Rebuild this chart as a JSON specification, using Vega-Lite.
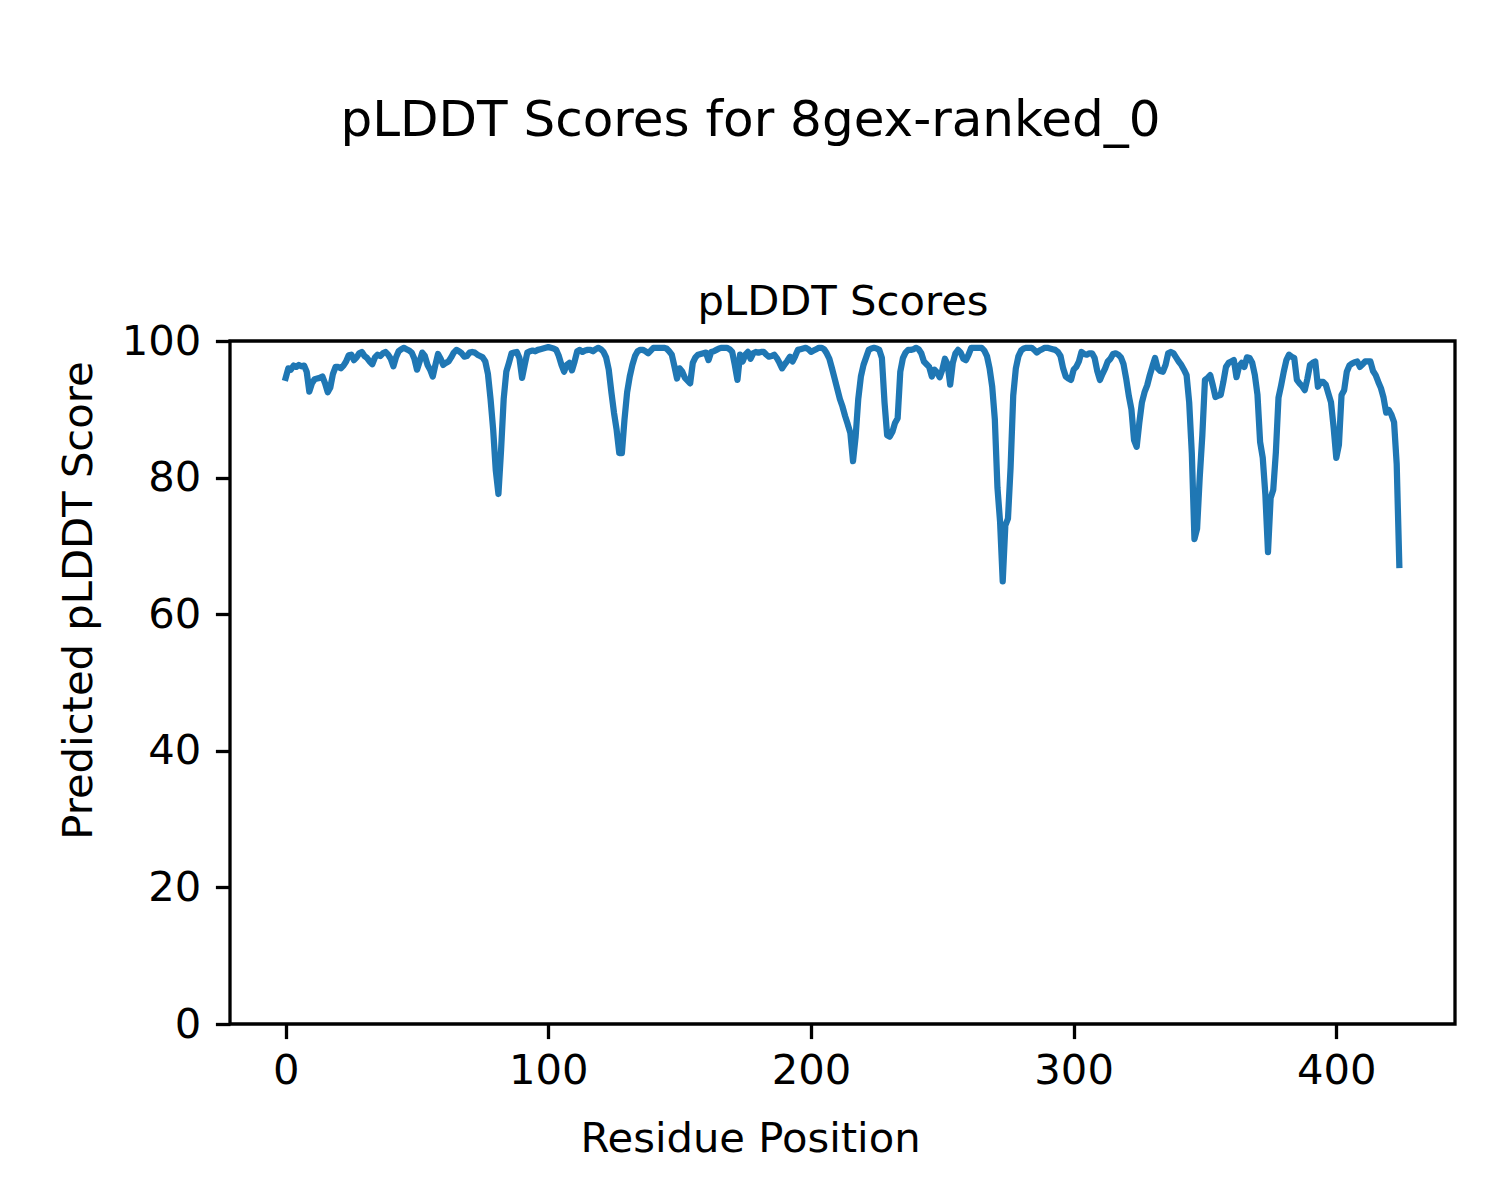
{
 "$schema": "https://vega.github.io/schema/vega-lite/v6.json",
 "width": 1225, "height": 683,
 "autosize": {"type": "none"},
 "padding": {"left": 230, "top": 341, "right": 45, "bottom": 176},
 "background": "white",
 "config": {"view": {"stroke": "black", "strokeWidth": 3.3}, "font": "DejaVu Sans"},
 "title": {"text": "pLDDT Scores for 8gex-ranked_0", "fontSize": 50, "fontWeight": "normal", "font": "DejaVu Sans", "color": "black", "anchor": "middle", "frame": "group", "dx": -92, "offset": 135},
 "data": {"values": [
{"r":0,"s":94.6},{"r":1,"s":96.0},{"r":2,"s":95.8},{"r":3,"s":96.4},{"r":4,"s":96.2},{"r":5,"s":96.5},{"r":6,"s":96.3},{"r":7,"s":96.4},{"r":8,"s":95.5},{"r":9,"s":92.6},
{"r":10,"s":93.8},{"r":11,"s":94.4},{"r":12,"s":94.5},{"r":13,"s":94.6},{"r":14,"s":94.8},{"r":15,"s":93.8},{"r":16,"s":92.5},{"r":17,"s":93.2},{"r":18,"s":95.2},{"r":19,"s":96.2},
{"r":20,"s":96.2},{"r":21,"s":96.0},{"r":22,"s":96.4},{"r":23,"s":97.0},{"r":24,"s":97.9},{"r":25,"s":98.0},{"r":26,"s":97.2},{"r":27,"s":97.6},{"r":28,"s":98.2},{"r":29,"s":98.4},
{"r":30,"s":97.8},{"r":31,"s":97.5},{"r":32,"s":97.0},{"r":33,"s":96.6},{"r":34,"s":97.6},{"r":35,"s":98.0},{"r":36,"s":97.8},{"r":37,"s":98.2},{"r":38,"s":98.4},{"r":39,"s":98.0},
{"r":40,"s":97.4},{"r":41,"s":96.3},{"r":42,"s":97.6},{"r":43,"s":98.5},{"r":44,"s":98.8},{"r":45,"s":99.0},{"r":46,"s":98.8},{"r":47,"s":98.6},{"r":48,"s":98.3},{"r":49,"s":97.4},
{"r":50,"s":95.8},{"r":51,"s":97.0},{"r":52,"s":98.3},{"r":53,"s":97.8},{"r":54,"s":96.5},{"r":55,"s":95.8},{"r":56,"s":94.8},{"r":57,"s":96.5},{"r":58,"s":98.1},{"r":59,"s":97.4},
{"r":60,"s":96.5},{"r":61,"s":96.8},{"r":62,"s":97.0},{"r":63,"s":97.6},{"r":64,"s":98.3},{"r":65,"s":98.7},{"r":66,"s":98.5},{"r":67,"s":98.2},{"r":68,"s":97.7},{"r":69,"s":97.8},
{"r":70,"s":98.3},{"r":71,"s":98.4},{"r":72,"s":98.3},{"r":73,"s":98.0},{"r":74,"s":97.8},{"r":75,"s":97.6},{"r":76,"s":97.0},{"r":77,"s":95.2},{"r":78,"s":91.5},{"r":79,"s":87.0},
{"r":80,"s":81.0},{"r":81,"s":77.6},{"r":82,"s":84.0},{"r":83,"s":91.5},{"r":84,"s":95.5},{"r":85,"s":96.8},{"r":86,"s":98.2},{"r":87,"s":98.3},{"r":88,"s":98.4},{"r":89,"s":97.5},
{"r":90,"s":94.6},{"r":91,"s":96.5},{"r":92,"s":98.3},{"r":93,"s":98.5},{"r":94,"s":98.6},{"r":95,"s":98.5},{"r":96,"s":98.7},{"r":97,"s":98.8},{"r":98,"s":98.9},{"r":99,"s":99.0},
{"r":100,"s":99.1},{"r":101,"s":99.0},{"r":102,"s":98.9},{"r":103,"s":98.7},{"r":104,"s":97.8},{"r":105,"s":96.5},{"r":106,"s":95.5},{"r":107,"s":96.5},{"r":108,"s":96.8},{"r":109,"s":95.7},
{"r":110,"s":97.0},{"r":111,"s":98.5},{"r":112,"s":98.7},{"r":113,"s":98.4},{"r":114,"s":98.6},{"r":115,"s":98.7},{"r":116,"s":98.7},{"r":117,"s":98.5},{"r":118,"s":98.8},{"r":119,"s":99.0},
{"r":120,"s":98.8},{"r":121,"s":98.4},{"r":122,"s":97.6},{"r":123,"s":95.8},{"r":124,"s":92.5},{"r":125,"s":89.5},{"r":126,"s":87.0},{"r":127,"s":83.6},{"r":128,"s":83.6},{"r":129,"s":88.5},
{"r":130,"s":92.5},{"r":131,"s":94.8},{"r":132,"s":96.5},{"r":133,"s":97.8},{"r":134,"s":98.5},{"r":135,"s":98.7},{"r":136,"s":98.7},{"r":137,"s":98.5},{"r":138,"s":98.2},{"r":139,"s":98.6},
{"r":140,"s":99.0},{"r":141,"s":99.0},{"r":142,"s":99.0},{"r":143,"s":99.0},{"r":144,"s":99.0},{"r":145,"s":98.9},{"r":146,"s":98.5},{"r":147,"s":98.0},{"r":148,"s":96.3},{"r":149,"s":94.5},
{"r":150,"s":96.0},{"r":151,"s":95.5},{"r":152,"s":94.6},{"r":153,"s":94.2},{"r":154,"s":93.8},{"r":155,"s":96.8},{"r":156,"s":97.6},{"r":157,"s":98.0},{"r":158,"s":98.1},{"r":159,"s":98.2},
{"r":160,"s":98.3},{"r":161,"s":97.2},{"r":162,"s":98.4},{"r":163,"s":98.5},{"r":164,"s":98.7},{"r":165,"s":98.9},{"r":166,"s":99.0},{"r":167,"s":99.0},{"r":168,"s":99.0},{"r":169,"s":98.8},
{"r":170,"s":98.4},{"r":171,"s":96.5},{"r":172,"s":94.3},{"r":173,"s":98.0},{"r":174,"s":97.0},{"r":175,"s":98.0},{"r":176,"s":98.4},{"r":177,"s":97.4},{"r":178,"s":98.2},{"r":179,"s":98.4},
{"r":180,"s":98.3},{"r":181,"s":98.4},{"r":182,"s":98.4},{"r":183,"s":98.0},{"r":184,"s":97.7},{"r":185,"s":97.8},{"r":186,"s":98.0},{"r":187,"s":97.5},{"r":188,"s":96.8},{"r":189,"s":96.0},
{"r":190,"s":96.6},{"r":191,"s":97.1},{"r":192,"s":97.7},{"r":193,"s":97.0},{"r":194,"s":97.8},{"r":195,"s":98.7},{"r":196,"s":98.8},{"r":197,"s":98.9},{"r":198,"s":99.0},{"r":199,"s":98.8},
{"r":200,"s":98.4},{"r":201,"s":98.6},{"r":202,"s":98.8},{"r":203,"s":99.0},{"r":204,"s":99.0},{"r":205,"s":98.8},{"r":206,"s":98.2},{"r":207,"s":97.4},{"r":208,"s":96.0},{"r":209,"s":94.5},
{"r":210,"s":93.0},{"r":211,"s":91.5},{"r":212,"s":90.4},{"r":213,"s":89.0},{"r":214,"s":87.8},{"r":215,"s":86.5},{"r":216,"s":82.4},{"r":217,"s":86.0},{"r":218,"s":91.5},{"r":219,"s":94.8},
{"r":220,"s":96.5},{"r":221,"s":97.6},{"r":222,"s":98.7},{"r":223,"s":98.9},{"r":224,"s":99.0},{"r":225,"s":98.9},{"r":226,"s":98.7},{"r":227,"s":97.5},{"r":228,"s":91.0},{"r":229,"s":86.2},
{"r":230,"s":86.0},{"r":231,"s":86.7},{"r":232,"s":88.0},{"r":233,"s":88.7},{"r":234,"s":95.5},{"r":235,"s":97.5},{"r":236,"s":98.3},{"r":237,"s":98.7},{"r":238,"s":98.7},{"r":239,"s":98.8},
{"r":240,"s":99.0},{"r":241,"s":98.8},{"r":242,"s":98.2},{"r":243,"s":97.0},{"r":244,"s":96.6},{"r":245,"s":96.2},{"r":246,"s":94.8},{"r":247,"s":95.8},{"r":248,"s":95.4},{"r":249,"s":94.7},
{"r":250,"s":95.8},{"r":251,"s":97.4},{"r":252,"s":96.6},{"r":253,"s":93.6},{"r":254,"s":96.8},{"r":255,"s":98.2},{"r":256,"s":98.7},{"r":257,"s":98.3},{"r":258,"s":97.4},{"r":259,"s":97.2},
{"r":260,"s":98.0},{"r":261,"s":99.0},{"r":262,"s":99.0},{"r":263,"s":99.0},{"r":264,"s":99.0},{"r":265,"s":99.0},{"r":266,"s":98.6},{"r":267,"s":97.8},{"r":268,"s":96.0},{"r":269,"s":93.3},
{"r":270,"s":88.5},{"r":271,"s":78.5},{"r":272,"s":73.5},{"r":273,"s":64.8},{"r":274,"s":73.0},{"r":275,"s":74.0},{"r":276,"s":81.5},{"r":277,"s":92.0},{"r":278,"s":96.0},{"r":279,"s":97.8},
{"r":280,"s":98.6},{"r":281,"s":98.9},{"r":282,"s":99.0},{"r":283,"s":99.0},{"r":284,"s":99.0},{"r":285,"s":98.7},{"r":286,"s":98.3},{"r":287,"s":98.6},{"r":288,"s":98.8},{"r":289,"s":99.0},
{"r":290,"s":99.0},{"r":291,"s":98.9},{"r":292,"s":98.8},{"r":293,"s":98.7},{"r":294,"s":98.4},{"r":295,"s":97.8},{"r":296,"s":96.0},{"r":297,"s":94.8},{"r":298,"s":94.5},{"r":299,"s":94.3},
{"r":300,"s":95.8},{"r":301,"s":96.2},{"r":302,"s":97.0},{"r":303,"s":98.4},{"r":304,"s":98.1},{"r":305,"s":98.0},{"r":306,"s":98.2},{"r":307,"s":98.2},{"r":308,"s":97.5},{"r":309,"s":95.6},
{"r":310,"s":94.3},{"r":311,"s":95.2},{"r":312,"s":96.0},{"r":313,"s":97.0},{"r":314,"s":97.4},{"r":315,"s":98.1},{"r":316,"s":98.2},{"r":317,"s":98.0},{"r":318,"s":97.6},{"r":319,"s":96.6},
{"r":320,"s":94.5},{"r":321,"s":92.0},{"r":322,"s":90.0},{"r":323,"s":85.5},{"r":324,"s":84.5},{"r":325,"s":88.0},{"r":326,"s":91.0},{"r":327,"s":92.5},{"r":328,"s":93.5},{"r":329,"s":95.0},
{"r":330,"s":96.3},{"r":331,"s":97.5},{"r":332,"s":96.0},{"r":333,"s":95.6},{"r":334,"s":95.5},{"r":335,"s":96.5},{"r":336,"s":98.2},{"r":337,"s":98.4},{"r":338,"s":98.2},{"r":339,"s":97.6},
{"r":340,"s":97.0},{"r":341,"s":96.5},{"r":342,"s":95.8},{"r":343,"s":95.0},{"r":344,"s":91.0},{"r":345,"s":83.5},{"r":346,"s":71.0},{"r":347,"s":72.5},{"r":348,"s":80.0},{"r":349,"s":86.2},
{"r":350,"s":94.3},{"r":351,"s":94.6},{"r":352,"s":95.0},{"r":353,"s":93.5},{"r":354,"s":91.8},{"r":355,"s":92.0},{"r":356,"s":92.1},{"r":357,"s":94.0},{"r":358,"s":96.2},{"r":359,"s":96.8},
{"r":360,"s":97.0},{"r":361,"s":97.2},{"r":362,"s":94.7},{"r":363,"s":96.3},{"r":364,"s":96.8},{"r":365,"s":96.2},{"r":366,"s":97.6},{"r":367,"s":97.5},{"r":368,"s":96.8},{"r":369,"s":95.0},
{"r":370,"s":92.1},{"r":371,"s":85.2},{"r":372,"s":82.9},{"r":373,"s":77.5},{"r":374,"s":69.1},{"r":375,"s":77.0},{"r":376,"s":78.2},{"r":377,"s":83.7},{"r":378,"s":91.7},{"r":379,"s":93.5},
{"r":380,"s":95.5},{"r":381,"s":97.2},{"r":382,"s":98.0},{"r":383,"s":97.7},{"r":384,"s":97.5},{"r":385,"s":94.3},{"r":386,"s":93.8},{"r":387,"s":93.4},{"r":388,"s":92.8},{"r":389,"s":94.5},
{"r":390,"s":96.5},{"r":391,"s":96.8},{"r":392,"s":97.0},{"r":393,"s":93.3},{"r":394,"s":94.0},{"r":395,"s":94.0},{"r":396,"s":93.6},{"r":397,"s":92.3},{"r":398,"s":91.0},{"r":399,"s":87.3},
{"r":400,"s":82.9},{"r":401,"s":84.8},{"r":402,"s":92.1},{"r":403,"s":92.8},{"r":404,"s":95.5},{"r":405,"s":96.4},{"r":406,"s":96.7},{"r":407,"s":96.9},{"r":408,"s":97.0},{"r":409,"s":96.2},
{"r":410,"s":96.6},{"r":411,"s":97.0},{"r":412,"s":97.0},{"r":413,"s":97.0},{"r":414,"s":95.6},{"r":415,"s":95.0},{"r":416,"s":94.0},{"r":417,"s":93.1},{"r":418,"s":91.7},{"r":419,"s":89.5},
{"r":420,"s":89.9},{"r":421,"s":89.2},{"r":422,"s":88.1},{"r":423,"s":82.0},{"r":424,"s":67.2}
 ]},
 "layer": [
  {"mark": {"type": "line", "color": "#1f77b4", "strokeWidth": 6.25, "strokeJoin": "round", "strokeCap": "square"},
   "encoding": {
     "x": {"field": "r", "type": "quantitative", "scale": {"domain": [-21.2, 445.2], "nice": false, "zero": false},
       "axis": {"values": [0,100,200,300,400], "title": "Residue Position", "grid": false, "domain": false, "tickSize": 14.6, "tickWidth": 3.3, "tickColor": "black", "labelFontSize": 41.7, "labelColor": "black", "labelPadding": 12, "labelFont": "DejaVu Sans", "labelFlush": false, "labelOverlap": false, "titleFont": "DejaVu Sans", "titleFontSize": 41.7, "titleFontWeight": "normal", "titleColor": "black", "titleX": 520, "titleY": 114, "titleBaseline": "middle", "titleAlign": "center"}},
     "y": {"field": "s", "type": "quantitative", "scale": {"domain": [0, 100], "nice": false, "zero": true},
       "axis": {"values": [0,20,40,60,80,100], "title": "Predicted pLDDT Score", "grid": false, "domain": false, "tickSize": 14.6, "tickWidth": 3.3, "tickColor": "black", "labelFontSize": 41.7, "labelColor": "black", "labelPadding": 14.6, "labelFont": "DejaVu Sans", "labelFlush": false, "labelOverlap": false, "titleFont": "DejaVu Sans", "titleFontSize": 41.7, "titleFontWeight": "normal", "titleColor": "black", "titleX": -152, "titleY": 259, "titleAngle": -90, "titleBaseline": "middle", "titleAlign": "center"}}
   }},
  {"mark": {"type": "line", "opacity": 0},
   "encoding": {
     "x": {"field": "r", "type": "quantitative", "scale": {"domain": [-21.2, 445.2], "nice": false, "zero": false},
       "axis": {"orient": "top", "title": "pLDDT Scores", "labels": false, "ticks": false, "domain": false, "grid": false, "titleFontSize": 41.7, "titleFontWeight": "normal", "titleFont": "DejaVu Sans", "titleColor": "black", "titlePadding": 18}},
     "y": {"field": "s", "type": "quantitative"}
   }}
 ],
 "resolve": {"axis": {"x": "independent"}}
}
